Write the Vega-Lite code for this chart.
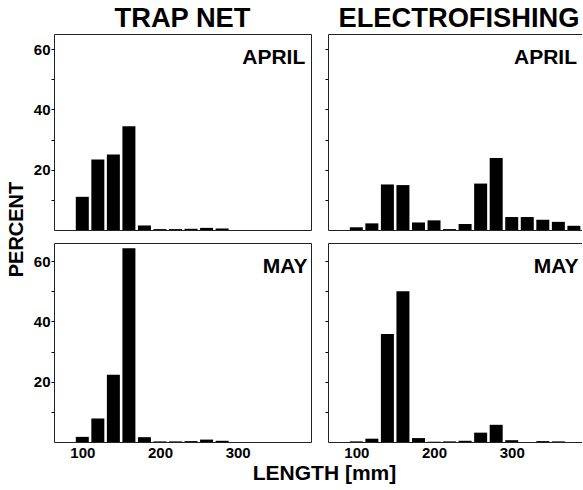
{
  "$schema": "https://vega.github.io/schema/vega-lite/v6.json",
  "padding": {"left": 5, "top": 4, "right": 0, "bottom": 5},
  "data": {"values": [
    {"method": "TRAP NET", "month": "APRIL", "length": 100, "percent": 11.0},
    {"method": "TRAP NET", "month": "APRIL", "length": 120, "percent": 23.4},
    {"method": "TRAP NET", "month": "APRIL", "length": 140, "percent": 25.0},
    {"method": "TRAP NET", "month": "APRIL", "length": 160, "percent": 34.4},
    {"method": "TRAP NET", "month": "APRIL", "length": 180, "percent": 1.5},
    {"method": "TRAP NET", "month": "APRIL", "length": 200, "percent": 0.3},
    {"method": "TRAP NET", "month": "APRIL", "length": 220, "percent": 0.3},
    {"method": "TRAP NET", "month": "APRIL", "length": 240, "percent": 0.4},
    {"method": "TRAP NET", "month": "APRIL", "length": 260, "percent": 0.7},
    {"method": "TRAP NET", "month": "APRIL", "length": 280, "percent": 0.5},
    {"method": "TRAP NET", "month": "MAY", "length": 100, "percent": 1.7},
    {"method": "TRAP NET", "month": "MAY", "length": 120, "percent": 7.8},
    {"method": "TRAP NET", "month": "MAY", "length": 140, "percent": 22.3},
    {"method": "TRAP NET", "month": "MAY", "length": 160, "percent": 64.3},
    {"method": "TRAP NET", "month": "MAY", "length": 180, "percent": 1.6},
    {"method": "TRAP NET", "month": "MAY", "length": 200, "percent": 0.2},
    {"method": "TRAP NET", "month": "MAY", "length": 220, "percent": 0.2},
    {"method": "TRAP NET", "month": "MAY", "length": 240, "percent": 0.3},
    {"method": "TRAP NET", "month": "MAY", "length": 260, "percent": 0.8},
    {"method": "TRAP NET", "month": "MAY", "length": 280, "percent": 0.4},
    {"method": "ELECTROFISHING", "month": "APRIL", "length": 100, "percent": 0.9},
    {"method": "ELECTROFISHING", "month": "APRIL", "length": 120, "percent": 2.2},
    {"method": "ELECTROFISHING", "month": "APRIL", "length": 140, "percent": 15.1},
    {"method": "ELECTROFISHING", "month": "APRIL", "length": 160, "percent": 14.9},
    {"method": "ELECTROFISHING", "month": "APRIL", "length": 180, "percent": 2.5},
    {"method": "ELECTROFISHING", "month": "APRIL", "length": 200, "percent": 3.2},
    {"method": "ELECTROFISHING", "month": "APRIL", "length": 220, "percent": 0.3},
    {"method": "ELECTROFISHING", "month": "APRIL", "length": 240, "percent": 2.0},
    {"method": "ELECTROFISHING", "month": "APRIL", "length": 260, "percent": 15.4},
    {"method": "ELECTROFISHING", "month": "APRIL", "length": 280, "percent": 23.9},
    {"method": "ELECTROFISHING", "month": "APRIL", "length": 300, "percent": 4.3},
    {"method": "ELECTROFISHING", "month": "APRIL", "length": 320, "percent": 4.3},
    {"method": "ELECTROFISHING", "month": "APRIL", "length": 340, "percent": 3.4},
    {"method": "ELECTROFISHING", "month": "APRIL", "length": 360, "percent": 2.7},
    {"method": "ELECTROFISHING", "month": "APRIL", "length": 380, "percent": 1.4},
    {"method": "ELECTROFISHING", "month": "MAY", "length": 100, "percent": 0.2},
    {"method": "ELECTROFISHING", "month": "MAY", "length": 120, "percent": 1.1},
    {"method": "ELECTROFISHING", "month": "MAY", "length": 140, "percent": 35.8},
    {"method": "ELECTROFISHING", "month": "MAY", "length": 160, "percent": 50.0},
    {"method": "ELECTROFISHING", "month": "MAY", "length": 180, "percent": 1.3},
    {"method": "ELECTROFISHING", "month": "MAY", "length": 200, "percent": 0.1},
    {"method": "ELECTROFISHING", "month": "MAY", "length": 220, "percent": 0.2},
    {"method": "ELECTROFISHING", "month": "MAY", "length": 240, "percent": 0.4},
    {"method": "ELECTROFISHING", "month": "MAY", "length": 260, "percent": 3.1},
    {"method": "ELECTROFISHING", "month": "MAY", "length": 280, "percent": 5.7},
    {"method": "ELECTROFISHING", "month": "MAY", "length": 300, "percent": 0.6},
    {"method": "ELECTROFISHING", "month": "MAY", "length": 340, "percent": 0.3},
    {"method": "ELECTROFISHING", "month": "MAY", "length": 360, "percent": 0.2}
  ]},
  "columns": 2,
  "spacing": {"row": 13, "column": 17},
  "bounds": "flush",
  "concat": [
    {
      "width": 257, "height": 196,
      "title": {"text": "TRAP NET", "fontSize": 27.3, "fontWeight": "bold", "offset": 2, "anchor": "middle", "color": "black"},
      "layer": [
        {
          "transform": [{"filter": "datum.method === 'TRAP NET' && datum.month === 'APRIL'"}],
          "mark": {"type": "bar", "color": "black", "size": 13, "clip": true},
          "encoding": {
            "x": {"field": "length", "type": "quantitative", "scale": {"domain": [70, 388], "nice": false, "zero": false}, "axis": null},
            "y": {"field": "percent", "type": "quantitative", "scale": {"domain": [0, 65], "nice": false},
                  "axis": {"title": "PERCENT", "titleY": 195, "titlePadding": 7, "titleFontSize": 20, "titleFontWeight": "bold", "titleColor": "black",
                           "values": [10, 20, 30, 40, 50, 60], "tickCount": 12, "labelExpr": "(datum.value == 20 || datum.value == 40 || datum.value == 60) ? datum.label : ''", "labelOverlap": false,
                           "tickSize": 3, "tickColor": "black", "domain": false, "grid": false, "labelFontSize": 15, "labelFontWeight": "bold", "labelPadding": 1, "labelColor": "black"}}
          }
        },
        {
          "data": {"values": [{"label": "APRIL"}]},
          "mark": {"type": "text", "align": "right", "baseline": "alphabetic", "fontSize": 21, "fontWeight": "bold", "color": "black"},
          "encoding": {
            "x": {"datum": 387, "type": "quantitative"},
            "y": {"datum": 55.1, "type": "quantitative"},
            "text": {"field": "label"}
          }
        }
      ]
    },
    {
      "width": 254, "height": 196,
      "view": {"stroke": null},
      "title": {"text": "ELECTROFISHING", "fontSize": 27.3, "fontWeight": "bold", "offset": 2, "anchor": "middle", "dx": 4, "color": "black"},
      "resolve": {"axis": {"x": "independent"}},
      "layer": [
        {
          "transform": [{"filter": "datum.method === 'ELECTROFISHING' && datum.month === 'APRIL'"}],
          "mark": {"type": "bar", "color": "black", "size": 13, "clip": true},
          "encoding": {
            "x": {"field": "length", "type": "quantitative", "scale": {"domain": [70, 384], "nice": false, "zero": false},
                  "axis": {"title": null, "labels": false, "ticks": false, "tickSize": 0, "domain": true, "domainColor": "#222", "grid": false}},
            "y": {"field": "percent", "type": "quantitative", "scale": {"domain": [0, 65], "nice": false},
                  "axis": {"title": null, "values": [10, 20, 30, 40, 50, 60], "tickCount": 12, "labels": false,
                           "tickSize": 3, "tickColor": "black", "domain": true, "domainColor": "#222", "grid": false}}
          }
        },
        {
          "data": {"values": [{"label": "APRIL"}]},
          "mark": {"type": "text", "align": "right", "baseline": "alphabetic", "fontSize": 21, "fontWeight": "bold", "color": "black"},
          "encoding": {
            "x": {"datum": 384, "type": "quantitative",
                  "axis": {"orient": "top", "title": null, "labels": false, "ticks": false, "tickSize": 0, "domain": true, "domainColor": "#222", "grid": false}},
            "y": {"datum": 55.1, "type": "quantitative"},
            "text": {"field": "label"}
          }
        }
      ]
    },
    {
      "width": 257, "height": 199,
      "layer": [
        {
          "transform": [{"filter": "datum.method === 'TRAP NET' && datum.month === 'MAY'"}],
          "mark": {"type": "bar", "color": "black", "size": 13, "clip": true},
          "encoding": {
            "x": {"field": "length", "type": "quantitative", "scale": {"domain": [70, 388], "nice": false, "zero": false},
                  "axis": {"title": "LENGTH [mm]", "titleX": 270, "titlePadding": 2, "titleFontSize": 21, "titleFontWeight": "bold", "titleColor": "black",
                           "values": [100, 200, 300], "tickCount": 12, "ticks": false, "tickSize": 0, "domain": false, "grid": false,
                           "labelFontSize": 15, "labelFontWeight": "bold", "labelPadding": 3, "labelColor": "black"}},
            "y": {"field": "percent", "type": "quantitative", "scale": {"domain": [0, 66], "nice": false},
                  "axis": {"title": null, "values": [10, 20, 30, 40, 50, 60], "tickCount": 12, "labelExpr": "(datum.value == 20 || datum.value == 40 || datum.value == 60) ? datum.label : ''", "labelOverlap": false,
                           "tickSize": 3, "tickColor": "black", "domain": false, "grid": false, "labelFontSize": 15, "labelFontWeight": "bold", "labelPadding": 1, "labelColor": "black"}}
          }
        },
        {
          "data": {"values": [{"label": "MAY"}]},
          "mark": {"type": "text", "align": "right", "baseline": "alphabetic", "fontSize": 21, "fontWeight": "bold", "color": "black"},
          "encoding": {
            "x": {"datum": 390, "type": "quantitative"},
            "y": {"datum": 56, "type": "quantitative"},
            "text": {"field": "label"}
          }
        }
      ]
    },
    {
      "width": 254, "height": 199,
      "view": {"stroke": null},
      "resolve": {"axis": {"x": "independent"}},
      "layer": [
        {
          "transform": [{"filter": "datum.method === 'ELECTROFISHING' && datum.month === 'MAY'"}],
          "mark": {"type": "bar", "color": "black", "size": 13, "clip": true},
          "encoding": {
            "x": {"field": "length", "type": "quantitative", "scale": {"domain": [70, 384], "nice": false, "zero": false},
                  "axis": {"title": null, "values": [100, 200, 300], "tickCount": 12, "ticks": false, "tickSize": 0, "domain": true, "domainColor": "#222", "grid": false,
                           "labelFontSize": 15, "labelFontWeight": "bold", "labelPadding": 3, "labelColor": "black"}},
            "y": {"field": "percent", "type": "quantitative", "scale": {"domain": [0, 66], "nice": false},
                  "axis": {"title": null, "values": [10, 20, 30, 40, 50, 60], "tickCount": 12, "labels": false,
                           "tickSize": 3, "tickColor": "black", "domain": true, "domainColor": "#222", "grid": false}}
          }
        },
        {
          "data": {"values": [{"label": "MAY"}]},
          "mark": {"type": "text", "align": "right", "baseline": "alphabetic", "fontSize": 21, "fontWeight": "bold", "color": "black"},
          "encoding": {
            "x": {"datum": 386, "type": "quantitative",
                  "axis": {"orient": "top", "title": null, "labels": false, "ticks": false, "tickSize": 0, "domain": true, "domainColor": "#222", "grid": false}},
            "y": {"datum": 56, "type": "quantitative"},
            "text": {"field": "label"}
          }
        }
      ]
    }
  ],
  "config": {
    "font": "Liberation Sans",
    "view": {"stroke": "#222", "strokeWidth": 1},
    "background": "white"
  }
}
